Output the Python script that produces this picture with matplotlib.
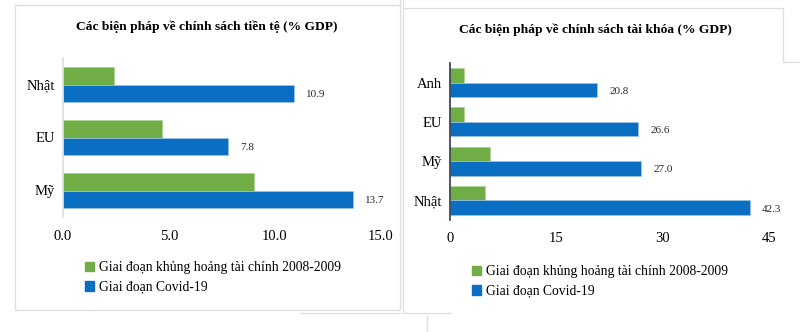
import matplotlib.pyplot as plt
from matplotlib.lines import Line2D
from matplotlib.patches import Patch

# Số liệu (% GDP)
tt_cats = ['Mỹ', 'EU', 'Nhật']
tt_2008 = [9.0, 4.7, 2.4]
tt_covid = [13.7, 7.8, 10.9]
tt_ticks = [0, 5, 10, 15]

tk_cats = ['Nhật', 'Mỹ', 'EU', 'Anh']
tk_2008 = [5.0, 5.6, 2.0, 2.0]
tk_covid = [42.3, 27.0, 26.6, 20.8]
tk_ticks = [0, 15, 30, 45]

lbl_2008 = 'Giai đoạn khủng hoảng tài chính 2008-2009'
lbl_covid = 'Giai đoạn Covid-19'

GREEN = '#70ad47'
BLUE = '#0a6ec2'
W, H = 800, 332

plt.rcParams['font.family'] = ['Liberation Serif', 'DejaVu Serif']

fig = plt.figure(figsize=(W / 100, H / 100), dpi=100)


def box(x0, y0, x1, y1):
    return [x0 / W, 1 - y1 / H, (x1 - x0) / W, (y1 - y0) / H]


def panel(ax, cats, v1, v2, ticks, fmt, bh, spine_col):
    y = list(range(len(cats)))
    ax.barh([i + bh / 2 for i in y], v1, height=bh, color=GREEN,
            edgecolor='#a9d18e', linewidth=0.5)
    ax.barh([i - bh / 2 for i in y], v2, height=bh, color=BLUE,
            edgecolor='#9dc3e6', linewidth=0.5)
    for i, v in zip(y, v2):
        ax.annotate(f'{v:.1f}', (v, i - bh / 2), xytext=(9, -1),
                    textcoords='offset points', va='center', ha='left',
                    fontsize=8, color='#262626')
    ax.set_xlim(ticks[0], ticks[-1])
    ax.set_ylim(-0.5, len(cats) - 0.5)
    ax.set_xticks(ticks)
    ax.set_xticklabels([fmt.format(t) for t in ticks])
    ax.set_yticks(y)
    ax.set_yticklabels(cats)
    ax.tick_params(axis='x', length=0, pad=9, labelsize=10.5)
    ax.tick_params(axis='y', length=0, pad=6, labelsize=10.5)
    for s in ['top', 'right', 'bottom']:
        ax.spines[s].set_visible(False)
    ax.spines['left'].set_color(spine_col)
    ax.spines['left'].set_linewidth(1.2)


ax1 = fig.add_axes(box(63, 58, 380.5, 217))
panel(ax1, tt_cats, tt_2008, tt_covid, tt_ticks, '{:.1f}', 0.335, '#d9dde3')

ax2 = fig.add_axes(box(450, 63, 768.8, 220))
panel(ax2, tk_cats, tk_2008, tk_covid, tk_ticks, '{:d}', 0.37, '#2f3a4a')

fig.text(207 / W, 1 - 27 / H, 'Các biện pháp về chính sách tiền tệ (% GDP)',
         ha='center', va='center', fontsize=9.7, fontweight='bold')
fig.text(595 / W, 1 - 30 / H, 'Các biện pháp về chính sách tài khóa (% GDP)',
         ha='center', va='center', fontsize=9.7, fontweight='bold')

handles = [Patch(color=GREEN, label=lbl_2008), Patch(color=BLUE, label=lbl_covid)]
for x0, y0 in [(85, 261), (472, 265)]:
    fig.legend(handles=handles, loc='upper left',
               bbox_to_anchor=(x0 / W, 1 - y0 / H), frameon=False,
               fontsize=9.8, handlelength=0.65, handleheight=0.65,
               handletextpad=0.35, labelspacing=0.5, borderpad=0,
               borderaxespad=0)

# khung viền mờ quanh hai biểu đồ
frame = [
    [(15, 5), (15, 310), (400, 310), (400, 0)],
    [(15, 5), (400, 5)],
    [(300, 313), (400, 313)],
    [(403, 0), (403, 313), (450, 313)],
    [(403, 8), (783, 8), (783, 62), (800, 62)],
    [(427, 316), (427, 332)],
]
for pts in frame:
    xs = [p[0] / W for p in pts]
    ys = [1 - p[1] / H for p in pts]
    fig.add_artist(Line2D(xs, ys, color='#dedede', linewidth=0.9))

fig.savefig('out.png', dpi=100)
